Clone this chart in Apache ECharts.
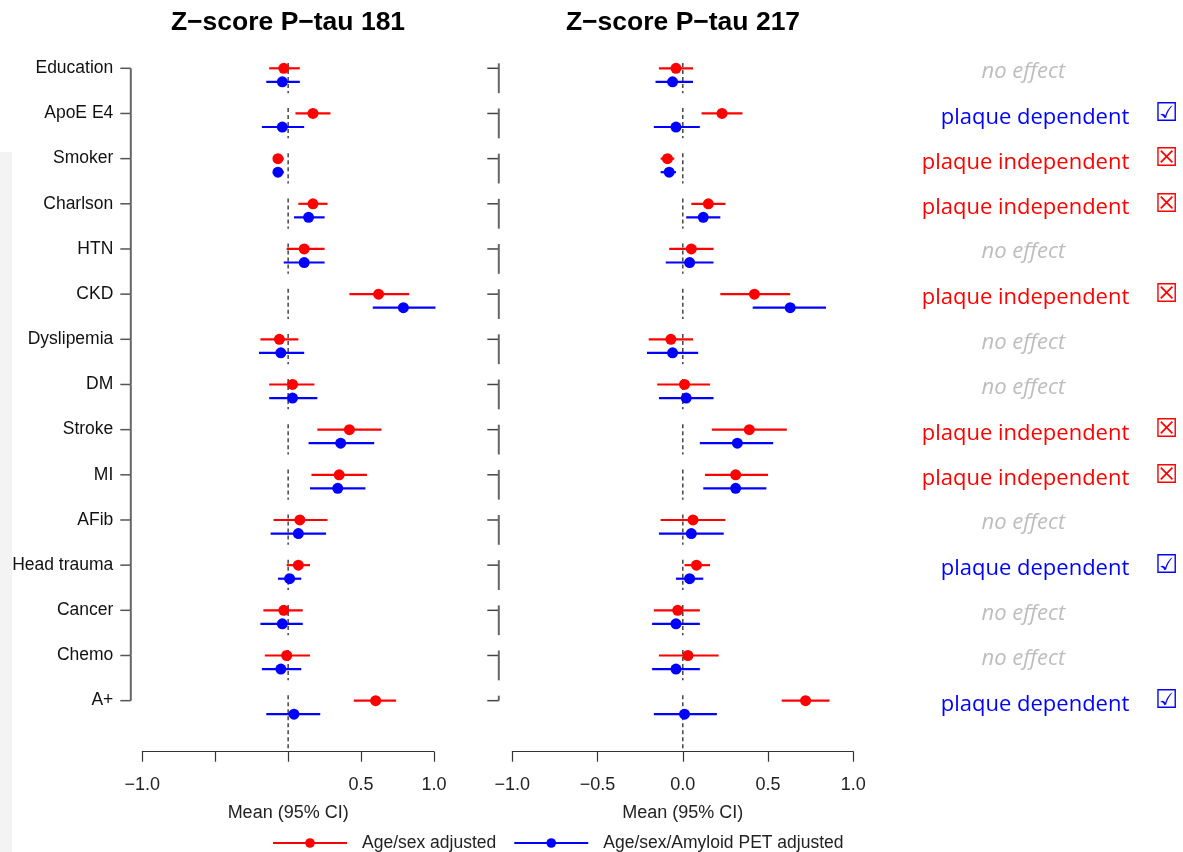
<!DOCTYPE html>
<html><head><meta charset="utf-8">
<script src="https://cdn.jsdelivr.net/npm/echarts@6/dist/echarts.min.js"></script>
<style>html,body{margin:0;padding:0;background:#fff}#c{width:1183px;height:852px}</style>
</head><body><div id="c"></div>
<script>
// ---------------- data ----------------
const categories = ['Education','ApoE E4','Smoker','Charlson','HTN','CKD','Dyslipemia','DM','Stroke','MI','AFib','Head trauma','Cancer','Chemo','A+'];

// Z-score P-tau 181
const p181RedMean = [-0.03, 0.17, -0.07, 0.17, 0.11, 0.62, -0.06, 0.03, 0.42, 0.35, 0.08, 0.07, -0.03, -0.01, 0.60];
const p181RedLo   = [-0.13, 0.05, -0.10, 0.07, -0.01, 0.42, -0.19, -0.13, 0.20, 0.16, -0.10, -0.01, -0.17, -0.16, 0.45];
const p181RedHi   = [0.08, 0.29, -0.03, 0.27, 0.25, 0.83, 0.07, 0.18, 0.64, 0.54, 0.27, 0.15, 0.10, 0.15, 0.74];
const p181BlueMean = [-0.04, -0.04, -0.07, 0.14, 0.11, 0.79, -0.05, 0.03, 0.36, 0.34, 0.07, 0.01, -0.04, -0.05, 0.04];
const p181BlueLo   = [-0.15, -0.18, -0.10, 0.04, -0.03, 0.58, -0.20, -0.13, 0.14, 0.15, -0.12, -0.07, -0.19, -0.18, -0.15];
const p181BlueHi   = [0.08, 0.11, -0.03, 0.25, 0.25, 1.01, 0.11, 0.20, 0.59, 0.53, 0.26, 0.09, 0.10, 0.09, 0.22];

// Z-score P-tau 217
const p217RedMean = [-0.04, 0.23, -0.09, 0.15, 0.05, 0.42, -0.07, 0.01, 0.39, 0.31, 0.06, 0.08, -0.03, 0.03, 0.72];
const p217RedLo   = [-0.14, 0.11, -0.13, 0.05, -0.08, 0.22, -0.20, -0.15, 0.17, 0.13, -0.13, 0.01, -0.17, -0.14, 0.58];
const p217RedHi   = [0.06, 0.35, -0.05, 0.25, 0.18, 0.63, 0.06, 0.16, 0.61, 0.50, 0.25, 0.16, 0.10, 0.21, 0.86];
const p217BlueMean = [-0.06, -0.04, -0.08, 0.12, 0.04, 0.63, -0.06, 0.02, 0.32, 0.31, 0.05, 0.04, -0.04, -0.04, 0.01];
const p217BlueLo   = [-0.16, -0.17, -0.13, 0.02, -0.10, 0.41, -0.21, -0.14, 0.10, 0.12, -0.14, -0.04, -0.18, -0.18, -0.17];
const p217BlueHi   = [0.06, 0.10, -0.04, 0.22, 0.18, 0.84, 0.09, 0.18, 0.53, 0.49, 0.24, 0.12, 0.10, 0.10, 0.20];

const effectLabels = ['no effect','plaque dependent','plaque independent','plaque independent','no effect','plaque independent','no effect','no effect','plaque independent','plaque independent','no effect','plaque dependent','no effect','no effect','plaque dependent'];

const xTicks = [-1, -0.5, 0, 0.5, 1];
const leftTickLabels  = ['\u22121.0', '', '', '0.5', '1.0'];
const rightTickLabels = ['\u22121.0', '\u22120.5', '0.0', '0.5', '1.0'];

const titles = ['Z\u2212score P\u2212tau 181', 'Z\u2212score P\u2212tau 217'];
const legendNames = ['Age/sex adjusted', 'Age/sex/Amyloid PET adjusted'];
const axisName = 'Mean (95% CI)';

// ---------------- styling / layout ----------------
const RED = '#ff0000', BLUE = '#0000ff';
const FONT = 'Liberation Sans, Arial, Helvetica, sans-serif';
const ANN_FONT = 'Open Sans, Noto Sans, sans-serif';
const ROW_MIN = -1, ROW_MAX = 15.13, BLUE_OFF = 0.30;
const GRID_TOP = 23.13, GRID_H = 728.57;

const chart = echarts.init(document.getElementById('c'));

function ciSeries(idx, lo, hi, off, color) {
  return {
    type: 'custom', xAxisIndex: idx, yAxisIndex: idx, silent: true, z: 3,
    encode: { x: [0, 1], y: 2 },
    data: lo.map((l, i) => [l, hi[i], i + off]),
    renderItem: (params, api) => {
      const a = api.coord([api.value(0), api.value(2)]);
      const b = api.coord([api.value(1), api.value(2)]);
      return { type: 'line', shape: { x1: a[0], y1: a[1], x2: b[0], y2: b[1] },
               style: { stroke: color, lineWidth: 2.2 } };
    }
  };
}
function pointSeries(idx, means, off, color) {
  return {
    type: 'scatter', xAxisIndex: idx, yAxisIndex: idx, silent: true, z: 4,
    symbol: 'circle', symbolSize: 11, itemStyle: { color: color, opacity: 1 },
    data: means.map((m, i) => [m, i + off])
  };
}
function zeroLineSeries(idx) {
  return {
    type: 'custom', xAxisIndex: idx, yAxisIndex: idx, silent: true, z: 2,
    encode: { x: 0, y: 1 },
    data: categories.map((c, i) => [0, i]),
    renderItem: (params, api) => {
      const i = api.value(1);
      const a = api.coord([0, i - 0.12]);
      const b = api.coord([0, i === categories.length - 1 ? ROW_MAX : i + 0.55]);
      return { type: 'line', shape: { x1: a[0], y1: a[1], x2: b[0], y2: b[1] },
               style: { stroke: '#444', lineWidth: 1.5, lineDash: [4, 3] } };
    }
  };
}
function leftAxisSeries() {
  return {
    type: 'custom', xAxisIndex: 0, yAxisIndex: 0, silent: true, z: 2,
    encode: { x: 0, y: 1 },
    data: categories.map((c, i) => [-1, i]),
    renderItem: (params, api) => {
      const i = api.value(1);
      const gx = params.coordSys.x;
      const p = api.coord([-1, i]);
      const children = [{ type: 'line', shape: { x1: gx - 22, y1: p[1], x2: gx - 11.5, y2: p[1] },
                          style: { stroke: '#555', lineWidth: 1.5 } }];
      if (i < categories.length - 1) {
        const q = api.coord([-1, i + 1]);
        children.push({ type: 'line', shape: { x1: gx - 11.5, y1: p[1], x2: gx - 11.5, y2: q[1] },
                        style: { stroke: '#666', lineWidth: 2 } });
      }
      return { type: 'group', children };
    }
  };
}
function rightAxisSeries() {
  return {
    type: 'custom', xAxisIndex: 1, yAxisIndex: 1, silent: true, z: 2,
    encode: { x: 0, y: 1 },
    data: categories.map((c, i) => [-1, i]),
    renderItem: (params, api) => {
      const i = api.value(1);
      const gx = params.coordSys.x;
      const p = api.coord([-1, i]);
      const last = i === categories.length - 1;
      const top = api.coord([-1, i - 0.11])[1];
      const bot = last ? p[1] : api.coord([-1, i + 0.55])[1];
      return { type: 'group', children: [
        { type: 'line', shape: { x1: gx - 25, y1: p[1], x2: gx - 13.5, y2: p[1] }, style: { stroke: '#444', lineWidth: 1.5 } },
        { type: 'line', shape: { x1: gx - 13.5, y1: top, x2: gx - 13.5, y2: bot }, style: { stroke: '#666', lineWidth: 2 } }
      ] };
    }
  };
}
function annotationSeries() {
  return {
    type: 'custom', xAxisIndex: 1, yAxisIndex: 1, silent: true, z: 5,
    encode: { x: 0, y: 1 },
    data: effectLabels.map((t, i) => [1, i]),
    renderItem: (params, api) => {
      const i = api.value(1);
      const label = effectLabels[i];
      const right = params.coordSys.x + params.coordSys.width;
      const y = api.coord([1, i])[1] + 3;
      if (label === 'no effect') {
        return { type: 'text', x: right + 170, y: y,
          style: { text: label, fill: '#bdbdbd', fontSize: 22, fontStyle: 'italic', fontFamily: ANN_FONT,
                   align: 'center', verticalAlign: 'middle' } };
      }
      const dep = label === 'plaque dependent';
      const col = dep ? BLUE : RED;
      return { type: 'group', children: [
        { type: 'text', x: right + 276, y: y + 1,
          style: { text: label, fill: col, fontSize: 22, fontFamily: ANN_FONT, align: 'right', verticalAlign: 'middle' } },
        { type: 'text', x: right + 313, y: y - 2,
          style: { text: dep ? '\u2611' : '\u2612', fill: col, fontSize: 26, fontWeight: 'bold', fontFamily: 'DejaVu Sans',
                   align: 'center', verticalAlign: 'middle' } }
      ] };
    }
  };
}

function xAxisFor(gridIndex, labels) {
  return {
    gridIndex, type: 'value', min: -1, max: 1, interval: 0.5,
    axisLine: { onZero: false, lineStyle: { color: '#333', width: 1.2 } },
    axisTick: { length: 10, lineStyle: { color: '#333', width: 1.2 } },
    splitLine: { show: false },
    axisLabel: { fontSize: 18, fontFamily: FONT, color: '#222', margin: 24,
      formatter: v => { const k = xTicks.findIndex(t => Math.abs(t - v) < 1e-6); return k >= 0 ? labels[k] : ''; } },
    name: axisName, nameLocation: 'middle', nameGap: 52,
    nameTextStyle: { fontSize: 18, fontFamily: FONT, color: '#222' }
  };
}
function yAxisFor(gridIndex, showLabels) {
  return {
    gridIndex, type: 'value', inverse: true, min: ROW_MIN, max: ROW_MAX, interval: 1,
    axisLine: { show: false }, axisTick: { show: false }, splitLine: { show: false },
    axisLabel: { show: showLabels, fontSize: 17.5, fontFamily: FONT, color: '#111', margin: 29,
      showMaxLabel: false,
      formatter: v => { const r = Math.round(v); return (Math.abs(r - v) < 1e-6 && categories[r]) ? categories[r] : ''; } }
  };
}

const option = {
  backgroundColor: '#ffffff',
  animation: false,
  title: [
    { text: titles[0], left: 283, top: 4, textAlign: 'center',
      textStyle: { fontSize: 26.5, fontWeight: 'bold', fontFamily: FONT, color: '#000' } },
    { text: titles[1], left: 678, top: 4, textAlign: 'center',
      textStyle: { fontSize: 26.5, fontWeight: 'bold', fontFamily: FONT, color: '#000' } }
  ],
  graphic: [
    { type: 'rect', shape: { x: 0, y: 152, width: 12, height: 700 }, style: { fill: '#f3f3f3' }, silent: true, z: -10 }
  ],
  legend: {
    data: legendNames, left: 272, top: 834, padding: 0, itemWidth: 74, itemHeight: 12, itemGap: 17,
    selectedMode: false,
    textStyle: { fontSize: 17.5, fontFamily: FONT, color: '#222', padding: [0, 0, 0, 10] }
  },
  grid: [
    { left: 142.3, top: GRID_TOP, width: 291.7, height: GRID_H },
    { left: 512.3, top: GRID_TOP, width: 341, height: GRID_H }
  ],
  xAxis: [xAxisFor(0, leftTickLabels), xAxisFor(1, rightTickLabels)],
  yAxis: [yAxisFor(0, true), yAxisFor(1, false)],
  series: [
    { type: 'line', name: legendNames[0], data: [], color: RED, symbol: 'circle', symbolSize: 10, lineStyle: { width: 2, color: RED }, itemStyle: { color: RED } },
    { type: 'line', name: legendNames[1], data: [], color: BLUE, symbol: 'circle', symbolSize: 10, lineStyle: { width: 2, color: BLUE }, itemStyle: { color: BLUE } },
    leftAxisSeries(), rightAxisSeries(),
    zeroLineSeries(0), zeroLineSeries(1),
    ciSeries(0, p181RedLo, p181RedHi, 0, RED),
    ciSeries(0, p181BlueLo, p181BlueHi, BLUE_OFF, BLUE),
    ciSeries(1, p217RedLo, p217RedHi, 0, RED),
    ciSeries(1, p217BlueLo, p217BlueHi, BLUE_OFF, BLUE),
    pointSeries(0, p181RedMean, 0, RED),
    pointSeries(0, p181BlueMean, BLUE_OFF, BLUE),
    pointSeries(1, p217RedMean, 0, RED),
    pointSeries(1, p217BlueMean, BLUE_OFF, BLUE),
    annotationSeries()
  ]
};
chart.setOption(option);
</script>
</body></html>
